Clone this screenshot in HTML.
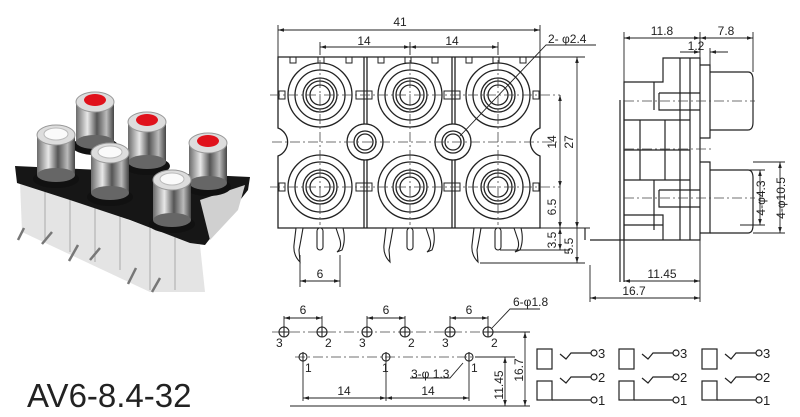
<!DOCTYPE html>
<html><head><meta charset="utf-8"><style>
html,body{margin:0;padding:0;background:#fff}
svg{display:block}
text{font-family:"Liberation Sans",sans-serif;fill:#222}
</style></head><body>
<svg width="800" height="417" viewBox="0 0 800 417" xmlns="http://www.w3.org/2000/svg">
<defs>
<marker id="a" viewBox="0 0 10 6" refX="10" refY="3" markerWidth="8" markerHeight="4" orient="auto-start-reverse"><path d="M0,0L10,3L0,6z" fill="#222"/></marker>
<linearGradient id="cy" x1="0" x2="1" y1="0" y2="0"><stop offset="0" stop-color="#6a6a6a"/><stop offset="0.3" stop-color="#e8e8e8"/><stop offset="0.55" stop-color="#555"/><stop offset="0.8" stop-color="#bbb"/><stop offset="1" stop-color="#444"/></linearGradient>
<g id="jack" fill="none" stroke="#222" stroke-width="1.3">
<circle r="32"/><circle r="25"/><circle r="17"/><circle r="14"/><circle r="10"/>
</g>
<g id="pins" fill="#fff" stroke="#222" stroke-width="1.1">
<path d="M-24,228 L-26,245 Q-27,255 -20,262 L-21,250 Q-19,240 -17,228z"/>
<rect x="-3" y="228" width="6" height="22" rx="3"/>
<path d="M16,228 L20,240 Q22,248 17,252 L22,250 Q26,240 23,228z"/>
</g>
<g id="sch" fill="none" stroke="#222" stroke-width="1.2">
<rect x="0" y="9" width="15" height="20"/><rect x="0" y="41" width="15" height="19"/>
<path d="M15,60H54"/><circle cx="57" cy="60" r="3"/>
<path d="M23,14l6,5l5,-6H54"/><circle cx="57" cy="13" r="3"/>
<path d="M23,38l6,5l5,-6H54"/><circle cx="57" cy="37" r="3"/>
</g>
<g id="rc"><ellipse cx="0" cy="44" rx="23" ry="9" fill="#111"/><rect x="-19" y="0" width="38" height="40" fill="url(#cy)"/><ellipse cx="0" cy="40" rx="19" ry="7" fill="#666"/><ellipse cx="0" cy="0" rx="19" ry="10" fill="#ddd" stroke="#999"/></g>
</defs>

<!-- photo -->
<g>
<polygon points="20,182 200,245 205,292 150,292 22,232" fill="#e4e4e4"/>
<g stroke="#aaa" stroke-width="1"><path d="M45,190V240M70,198V252M95,206V262M120,214V270M150,224V290M175,232V290"/></g>
<g stroke="#777" stroke-width="2.5" fill="none"><path d="M24,228l-6,12M52,232l-10,12M78,245l-9,16M100,248l-10,12M136,268l-8,16M160,278l-8,14"/></g>
<polygon points="15,166 250,177 248,190 205,245 190,243 130,220 70,200 17,183" fill="#161616"/>
<polygon points="200,200 245,185 238,210 210,240" fill="#d0d0d0"/>
<g>
<use href="#rc" x="95" y="102"/><ellipse cx="95" cy="100" rx="11" ry="6" fill="#e0111b"/>
<use href="#rc" x="147" y="122"/><ellipse cx="147" cy="120" rx="11" ry="6" fill="#e0111b"/>
<use href="#rc" x="208" y="143"/><ellipse cx="208" cy="141" rx="11" ry="6" fill="#e0111b"/>
<use href="#rc" x="56" y="135"/><ellipse cx="56" cy="134" rx="12" ry="6" fill="#fafafa" stroke="#bbb"/>
<use href="#rc" x="110" y="153"/><ellipse cx="110" cy="152" rx="12" ry="6" fill="#fafafa" stroke="#bbb"/>
<use href="#rc" x="172" y="180"/><ellipse cx="172" cy="179" rx="12" ry="6" fill="#fafafa" stroke="#bbb"/>
</g>
</g>
<text x="27" y="407" font-size="33">AV6-8.4-32</text>

<!-- front view -->
<g fill="none" stroke="#222" stroke-width="1.3">
<path d="M278,57H540V128A15,15 0 0 0 540,156V228H278V156A15,15 0 0 0 278,128Z"/>
<path d="M364,57V228M367,57V228M452,57V228M455,57V228"/>
<g stroke-width="1"><path d="M290,57v6h6v-6M318,57v6h6v-6M346,57v6h6v-6M378,57v6h6v-6M405,57v6h6v-6M432,57v6h6v-6M466,57v6h6v-6M493,57v6h6v-6M520,57v6h6v-6"/>
<rect x="279" y="91" width="6" height="8"/><rect x="356" y="91" width="16" height="8"/><rect x="444" y="91" width="16" height="8"/><rect x="533" y="91" width="6" height="8"/>
<rect x="279" y="183" width="6" height="8"/><rect x="356" y="183" width="16" height="8"/><rect x="444" y="183" width="16" height="8"/><rect x="533" y="183" width="6" height="8"/></g>
</g>
<g fill="#fff"><circle cx="365" cy="142" r="18" stroke="#222" stroke-width="1.3"/><circle cx="453" cy="142" r="18" stroke="#222" stroke-width="1.3"/></g>
<g fill="none" stroke="#222" stroke-width="1.3"><circle cx="365" cy="142" r="11"/><circle cx="365" cy="142" r="8"/><circle cx="453" cy="142" r="11"/><circle cx="453" cy="142" r="8"/></g>
<use href="#jack" x="320" y="95"/><use href="#jack" x="410" y="95"/><use href="#jack" x="498" y="95"/>
<use href="#jack" x="320" y="187"/><use href="#jack" x="410" y="187"/><use href="#jack" x="498" y="187"/>
<use href="#pins" x="320"/><use href="#pins" x="410"/><use href="#pins" x="498"/>
<g stroke="#444" stroke-width="0.8" stroke-dasharray="10,3,2,3" fill="none">
<path d="M270,95H560M270,187H560M272,142H560M320,60V225M410,60V225M498,60V225"/>
</g>
<!-- dims front -->
<g stroke="#222" stroke-width="0.9" fill="none">
<path d="M278,30H540" marker-start="url(#a)" marker-end="url(#a)"/>
<path d="M278,25V57M540,25V57"/>
<path d="M320,47H410" marker-start="url(#a)" marker-end="url(#a)"/><path d="M410,47H498" marker-start="url(#a)" marker-end="url(#a)"/>
<path d="M320,42V55M410,42V55M498,42V55"/>
<path d="M540,57H585"/>
<path d="M577,57V228" marker-start="url(#a)" marker-end="url(#a)"/>
<path d="M560,95V187" marker-start="url(#a)" marker-end="url(#a)"/>
<path d="M560,187V228" marker-end="url(#a)"/>
<path d="M540,228H590M500,250H570M480,263H585"/>
<path d="M560,228V250" marker-start="url(#a)" marker-end="url(#a)"/>
<path d="M577,228V263" marker-end="url(#a)"/>
<path d="M300,255V287M340,255V287"/>
<path d="M300,281H340" marker-start="url(#a)" marker-end="url(#a)"/>
<path d="M460,136L546,45H596"/>
</g>
<text x="400" y="26" font-size="12" text-anchor="middle">41</text>
<text x="364" y="45" font-size="12" text-anchor="middle">14</text>
<text x="452" y="45" font-size="12" text-anchor="middle">14</text>
<text x="548" y="43" font-size="12">2- φ2.4</text>
<text x="320" y="278" font-size="12" text-anchor="middle">6</text>
<g font-size="12" text-anchor="middle">
<text transform="translate(556,142) rotate(-90)">14</text>
<text transform="translate(573,142) rotate(-90)">27</text>
<text transform="translate(556,207) rotate(-90)">6.5</text>
<text transform="translate(556,240) rotate(-90)">3.5</text>
<text transform="translate(573,246) rotate(-90)">5.5</text>
</g>

<!-- side view -->
<g fill="none" stroke="#222" stroke-width="1.2">
<path d="M624,82H663V58H700V240H624Z"/>
<path d="M700,65H710V138H700M700,162H710V233H700"/>
<path d="M710,72H748Q753,72 753,80V122Q753,130 748,130H710M710,170H748Q753,170 753,178V225Q753,233 748,233H710"/>
<path d="M654,82V110M654,180V230M680,58V240M690,58V240"/>
<path d="M659,93V110H700M659,93H700M659,190V207H700M659,190H700"/>
<path d="M624,120H690M624,150H690M624,180H690M640,120V180M665,120V180M624,215H663V240M624,225H663"/>
<path d="M620,100V282M624,100V282"/>
<path d="M590,240H624M585,228V240"/>
</g>
<g stroke="#444" stroke-width="0.8" stroke-dasharray="10,3,2,3"><path d="M624,101H755M624,149H712M624,198H755"/></g>
<g stroke="#222" stroke-width="0.9" fill="none">
<path d="M624,38H700" marker-start="url(#a)" marker-end="url(#a)"/><path d="M700,38H753" marker-start="url(#a)" marker-end="url(#a)"/>
<path d="M624,32V82M700,32V58M753,32V72"/>
<path d="M680,52H700" marker-end="url(#a)"/><path d="M728,52H710" marker-end="url(#a)"/><path d="M710,48V65"/>
<path d="M753,162H785M753,233H785M740,170H765M740,225H765"/>
<path d="M760,170V225" marker-start="url(#a)" marker-end="url(#a)"/>
<path d="M780,162V233" marker-start="url(#a)" marker-end="url(#a)"/>
<path d="M624,281H700" marker-start="url(#a)" marker-end="url(#a)"/>
<path d="M590,298H700" marker-start="url(#a)" marker-end="url(#a)"/>
<path d="M700,240V302M590,265V302"/>
</g>
<text x="662" y="35" font-size="12" text-anchor="middle">11.8</text>
<text x="726" y="35" font-size="12" text-anchor="middle">7.8</text>
<text x="696" y="50" font-size="12" text-anchor="middle">1.2</text>
<text x="662" y="278" font-size="12" text-anchor="middle">11.45</text>
<text x="634" y="295" font-size="12" text-anchor="middle">16.7</text>
<text transform="translate(765,198) rotate(-90)" font-size="12" text-anchor="middle">4-φ4.3</text>
<text transform="translate(785,198) rotate(-90)" font-size="12" text-anchor="middle">4-φ10.5</text>

<!-- pcb layout -->
<g stroke="#444" stroke-width="0.8" stroke-dasharray="10,3,2,3"><path d="M272,332H500M295,357H478"/></g>
<g fill="none" stroke="#222" stroke-width="1.1">
<circle cx="284" cy="332" r="5"/><circle cx="322" cy="332" r="5"/><circle cx="367" cy="332" r="5"/><circle cx="405" cy="332" r="5"/><circle cx="450" cy="332" r="5"/><circle cx="488" cy="332" r="5"/>
<circle cx="303" cy="357" r="4"/><circle cx="386" cy="357" r="4"/><circle cx="469" cy="357" r="4"/>
<path d="M284,326V337M279,332H289M322,326V337M317,332H327M367,326V337M362,332H372M405,326V337M400,332H410M450,326V337M445,332H455M488,326V337M483,332H493M303,352V362M386,352V362M469,352V362"/>
</g>
<g stroke="#222" stroke-width="0.9" fill="none">
<path d="M284,316V328M322,316V328M367,316V328M405,316V328M450,316V328M488,316V328"/>
<path d="M284,318H322" marker-start="url(#a)" marker-end="url(#a)"/><path d="M367,318H405" marker-start="url(#a)" marker-end="url(#a)"/><path d="M450,318H488" marker-start="url(#a)" marker-end="url(#a)"/>
<path d="M492,328L510,309H540"/>
<path d="M463,363L450,378H410"/>
<path d="M303,361V401M386,361V401M469,361V401"/>
<path d="M303,398H386" marker-start="url(#a)" marker-end="url(#a)"/><path d="M386,398H469" marker-start="url(#a)" marker-end="url(#a)"/>
<path d="M492,332H530M475,357H515M290,406H530"/>
<path d="M525,332V406" marker-start="url(#a)" marker-end="url(#a)"/>
<path d="M505,357V406" marker-start="url(#a)" marker-end="url(#a)"/>
</g>
<g font-size="12">
<text x="303" y="314" text-anchor="middle">6</text><text x="386" y="314" text-anchor="middle">6</text><text x="469" y="314" text-anchor="middle">6</text>
<text x="513" y="306">6-φ1.8</text>
<text x="411" y="378">3-φ 1.3</text>
<text x="344" y="395" text-anchor="middle">14</text><text x="428" y="395" text-anchor="middle">14</text>
<text x="276" y="347">3</text><text x="325" y="347">2</text><text x="359" y="347">3</text><text x="408" y="347">2</text><text x="442" y="347">3</text><text x="491" y="347">2</text>
<text x="305" y="372">1</text><text x="382" y="372">1</text><text x="471" y="372">1</text>
<text transform="translate(503,385) rotate(-90)" text-anchor="middle">11.45</text>
<text transform="translate(523,370) rotate(-90)" text-anchor="middle">16.7</text>
</g>
<!-- schematics -->
<use href="#sch" x="537" y="340"/><use href="#sch" x="619" y="340"/><use href="#sch" x="702" y="340"/>
<g font-size="13">
<text x="598" y="358">3</text><text x="598" y="382">2</text><text x="598" y="405">1</text>
<text x="680" y="358">3</text><text x="680" y="382">2</text><text x="680" y="405">1</text>
<text x="763" y="358">3</text><text x="763" y="382">2</text><text x="763" y="405">1</text>
</g>
</svg>
</body></html>
